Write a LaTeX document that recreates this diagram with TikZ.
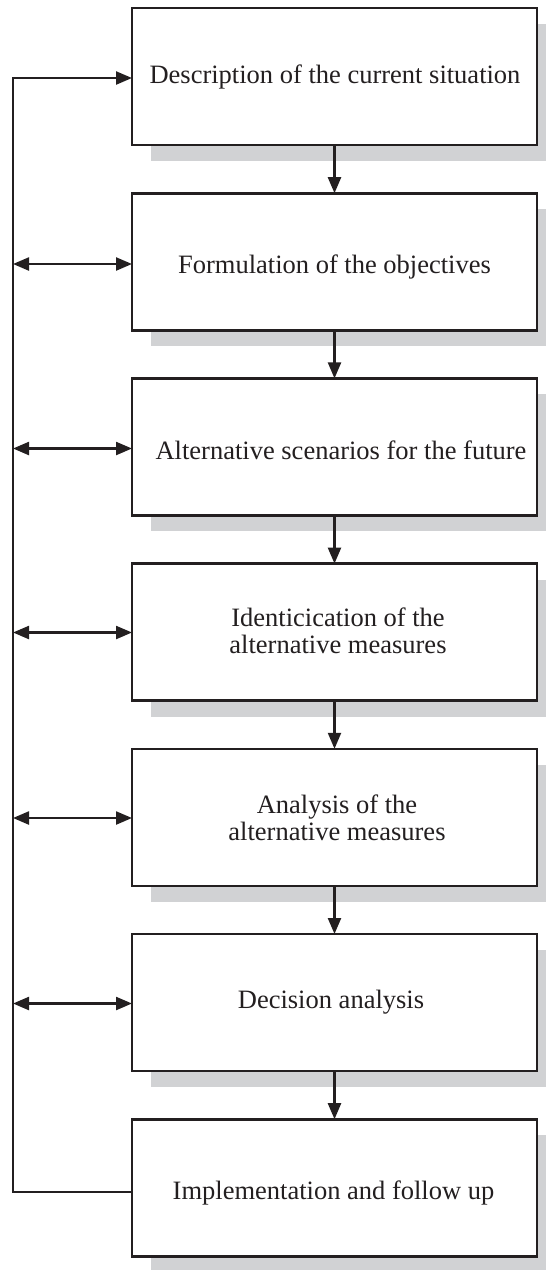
\documentclass[tikz,border=0pt]{standalone}
\usepackage{fontspec}
\setmainfont{Liberation Serif}
\usetikzlibrary{arrows.meta,calc}

\definecolor{ink}{RGB}{35,31,32}
\definecolor{shadowgray}{RGB}{209,210,212}

\tikzset{
  stepbox/.style={draw=ink, line width=2.6pt, fill=white, rectangle,
    minimum width=405pt, minimum height=137pt, inner sep=0pt, outer sep=0pt},
  lbl/.style={text=ink, inner sep=0pt, align=center,
    font=\fontsize{26.5}{27}\selectfont},
  link/.style={draw=ink, line width=2.3pt},
  tip/.style={-{Triangle[length=16pt,width=13pt]}},
  twotip/.style={{Triangle[length=16pt,width=13pt]}-{Triangle[length=16pt,width=13pt]}},
}

\begin{document}
\begin{tikzpicture}[x=1pt,y=-1pt]
\useasboundingbox (0,0) rectangle (546,1270);

% drop shadows behind the boxes
\foreach \t in {8,193.2,378.4,563.6,748.8,934,1119.2}{
  \fill[shadowgray] (151,\t+16) rectangle (560,\t+153);
}

% process steps
\node[stepbox] (b1) at (334.5,76.5)   {};
\node[stepbox] (b2) at (334.5,261.7)  {};
\node[stepbox] (b3) at (334.5,446.9)  {};
\node[stepbox] (b4) at (334.5,632.1)  {};
\node[stepbox] (b5) at (334.5,817.3)  {};
\node[stepbox] (b6) at (334.5,1002.5) {};
\node[stepbox] (b7) at (334.5,1187.7) {};

% step labels
\node[lbl, anchor=base] (t1) at (335,83)    {Description of the current situation};
\node[lbl, anchor=base] (t2) at (334.5,273) {Formulation of the objectives};
\node[lbl, anchor=base] (t3) at (341,459)   {Alternative scenarios for the future};
\node[lbl] (t4) at (338,630.5) {Identicication of the\\alternative measures};
\node[lbl] (t5) at (337,817.5) {Analysis of the\\alternative measures};
\node[lbl, anchor=base] (t6) at (331,1008)  {Decision analysis};
\node[lbl, anchor=base] (t7) at (333.5,1199) {Implementation and follow up};

% main flow
\foreach \a/\b in {b1/b2,b2/b3,b3/b4,b4/b5,b5/b6,b6/b7}{
  \draw[link, tip] (\a.south) -- (\b.north);
}

% feedback rail on the left
\coordinate (r1) at (13,78);
\coordinate (r2) at (13,264);
\coordinate (r3) at (13,448.5);
\coordinate (r4) at (13,632.5);
\coordinate (r5) at (13,818);
\coordinate (r6) at (13,1003.5);
\coordinate (r7) at (13,1192);

\draw[link, tip] (b7.west |- r7) -- (r7) -- (r1) -- (b1.west |- r1);
\foreach \i in {2,...,6}{
  \draw[link, twotip] (r\i) -- (b\i.west |- r\i);
}
\end{tikzpicture}
\end{document}
